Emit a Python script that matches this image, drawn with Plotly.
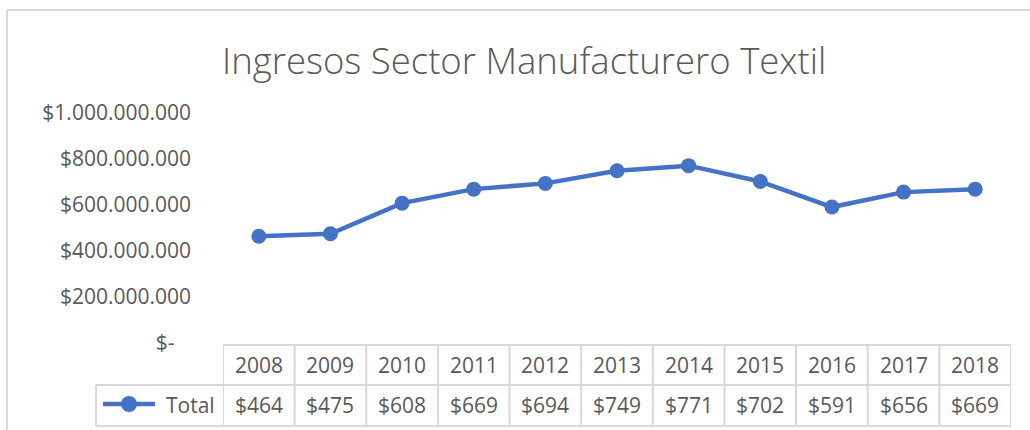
import plotly.graph_objects as go

# Data
years = ["2008", "2009", "2010", "2011", "2012", "2013", "2014", "2015", "2016", "2017", "2018"]
total_millones = [464, 475, 608, 669, 694, 749, 771, 702, 591, 656, 669]
y_tickvals = [0, 200_000_000, 400_000_000, 600_000_000, 800_000_000, 1_000_000_000]
y_ticktext = ["$-\u00a0\u00a0\u00a0", "$200.000.000", "$400.000.000", "$600.000.000",
              "$800.000.000", "$1.000.000.000"]
series_name = "Total"
title_text = "Ingresos Sector Manufacturero Textil"

# Layout geometry (pixels)
W, H = 1030, 430
L, R, T, B = 223, 19, 113, 87
PW, PH = W - L - R, H - T - B

BLUE = "#4472C4"
GRID = "#d9d9d9"
TEXT = "#595959"
FONT = "Open Sans"
FS = 21


def px_x(p):
    return (p - L) / PW


def px_y(p):
    return (H - B - p) / PH


values = [v * 1_000_000 for v in total_millones]

fig = go.Figure()
fig.add_trace(go.Scatter(
    x=years, y=values, mode="lines+markers", name=series_name,
    line=dict(color=BLUE, width=4.5),
    marker=dict(color=BLUE, size=15),
    showlegend=False, cliponaxis=False,
))

shapes = []
annotations = []

# Outer chart frame
shapes.append(dict(type="line", xref="paper", yref="paper",
                   x0=px_x(7), x1=px_x(W + 5), y0=px_y(10), y1=px_y(10),
                   line=dict(color=GRID, width=2)))
shapes.append(dict(type="line", xref="paper", yref="paper",
                   x0=px_x(7), x1=px_x(7), y0=px_y(10), y1=px_y(H + 5),
                   line=dict(color=GRID, width=2)))

# Data table below the plot
row_top, row_mid, row_bot = 345, 385, 426
legend_left = 96
n = len(years)
shapes.append(dict(type="line", xref="x", yref="paper",
                   x0=-0.5, x1=n - 0.5, y0=px_y(row_top), y1=px_y(row_top),
                   line=dict(color=GRID, width=2)))
for yy in (row_mid, row_bot):
    shapes.append(dict(type="line", xref="paper", yref="paper",
                       x0=px_x(legend_left), x1=1, y0=px_y(yy), y1=px_y(yy),
                       line=dict(color=GRID, width=2)))
for i in range(n + 1):
    shapes.append(dict(type="line", xref="x", yref="paper",
                       x0=i - 0.5, x1=i - 0.5, y0=px_y(row_top), y1=px_y(row_bot),
                       line=dict(color=GRID, width=2)))
shapes.append(dict(type="line", xref="paper", yref="paper",
                   x0=px_x(legend_left), x1=px_x(legend_left),
                   y0=px_y(row_mid), y1=px_y(row_bot),
                   line=dict(color=GRID, width=2)))

for i, (yr, v) in enumerate(zip(years, total_millones)):
    annotations.append(dict(x=i, xref="x", y=px_y(365), yref="paper", text=yr,
                            xanchor="center", yanchor="middle", showarrow=False,
                            font=dict(family=FONT, size=FS, color=TEXT)))
    annotations.append(dict(x=i, xref="x", y=px_y(405), yref="paper", text=f"${v}",
                            xanchor="center", yanchor="middle", showarrow=False,
                            font=dict(family=FONT, size=FS, color=TEXT)))

# Legend key inside the table
shapes.append(dict(type="line", xref="paper", yref="paper",
                   x0=px_x(103), x1=px_x(155), y0=px_y(404), y1=px_y(404),
                   line=dict(color=BLUE, width=4.5)))
shapes.append(dict(type="circle", xref="paper", yref="paper",
                   x0=px_x(121), x1=px_x(137), y0=px_y(396), y1=px_y(412),
                   fillcolor=BLUE, line=dict(color=BLUE, width=0)))
annotations.append(dict(x=px_x(164), xref="paper", y=px_y(405), yref="paper",
                        text=series_name, xanchor="left", yanchor="middle",
                        showarrow=False,
                        font=dict(family=FONT, size=FS, color=TEXT)))

# Title
annotations.append(dict(x=px_x(524), xref="paper", y=px_y(60), yref="paper",
                        text=title_text, xanchor="center", yanchor="middle",
                        showarrow=False,
                        font=dict(family=FONT, size=36.5, color=TEXT, weight=300)))

fig.update_layout(
    width=W, height=H,
    margin=dict(l=L, r=R, t=T, b=B),
    paper_bgcolor="white", plot_bgcolor="white",
    xaxis=dict(type="category", range=[-0.5, n - 0.5], showticklabels=False,
               showgrid=False, zeroline=False, showline=False, fixedrange=True),
    yaxis=dict(range=[0, 1_000_000_000], tickvals=y_tickvals, ticktext=y_ticktext,
               showgrid=False, zeroline=False, showline=False,
               ticklabelstandoff=31,
               tickfont=dict(family=FONT, size=FS, color=TEXT)),
    shapes=shapes, annotations=annotations,
)

fig.write_html("out.html")
